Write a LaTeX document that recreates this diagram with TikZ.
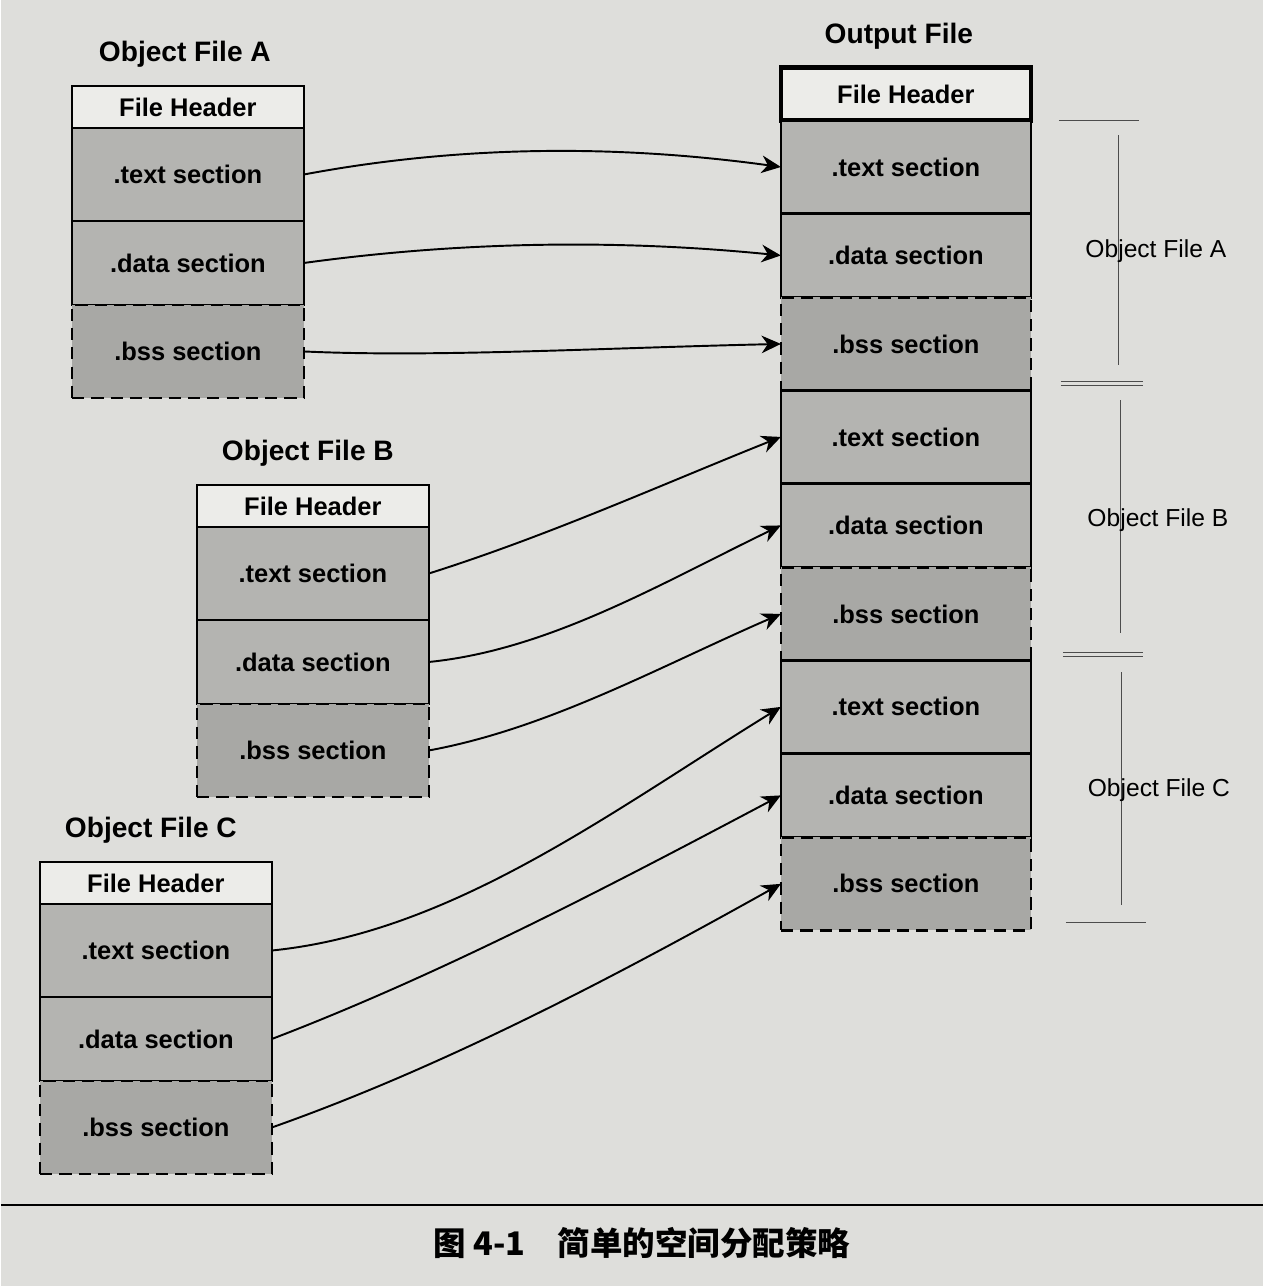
\documentclass[tikz,border=0pt]{standalone}
\usepackage{fontspec}
\setmainfont{Liberation Sans}
\newfontfamily\cjk{Noto Sans CJK SC}
\usetikzlibrary{positioning,arrows.meta}
\definecolor{paper}{RGB}{222,222,219}
\definecolor{secgray}{RGB}{180,180,177}
\definecolor{bssgray}{RGB}{168,168,165}
\definecolor{hdrgray}{RGB}{236,236,233}
\begin{document}
\begin{tikzpicture}[x=0.02cm,y=-0.02cm,
    hdr/.style={draw,line width=1.4pt,fill=hdrgray,minimum width=4.64cm,minimum height=0.84cm,
      inner sep=0pt,outer sep=0pt,font=\fontsize{14.5}{16}\selectfont\bfseries},
    sec/.style={hdr,fill=secgray,minimum height=1.86cm},
    datsec/.style={sec,minimum height=1.68cm},
    bsssec/.style={sec,fill=bssgray,dash pattern=on 7pt off 4pt},
    title/.style={font=\fontsize{16}{18}\selectfont\bfseries},
    side/.style={font=\fontsize{14}{16}\selectfont},
    link/.style={line width=1.1pt,-{Stealth[length=11pt,width=10pt,inset=3.5pt]}},
    thin/.style={line width=0.5pt,black!70}
]
    \fill[paper] (0,0) rectangle (1262,1286);

    % object file A
    \node[title] (titA) at (184,54) {Object File A};
    \node[hdr] (aHdr) at (187,107) {File Header};
    \node[sec,below=0pt of aHdr] (aText) {.text section};
    \node[datsec,below=0pt of aText] (aData) {.data section};
    \node[bsssec,below=0pt of aData] (aBss) {.bss section};

    % object file B
    \node[title] (titB) at (307,453) {Object File B};
    \node[hdr] (bHdr) at (312,506) {File Header};
    \node[sec,below=0pt of bHdr] (bText) {.text section};
    \node[datsec,below=0pt of bText] (bData) {.data section};
    \node[bsssec,below=0pt of bData] (bBss) {.bss section};

    % object file C
    \node[title] (titC) at (150,830) {Object File C};
    \node[hdr] (cHdr) at (155,883) {File Header};
    \node[sec,below=0pt of cHdr] (cText) {.text section};
    \node[datsec,below=0pt of cText] (cData) {.data section};
    \node[bsssec,below=0pt of cData] (cBss) {.bss section};

    % output file
    \node[title] (titO) at (898,36) {Output File};
    \node[hdr,line width=2.4pt,minimum width=5cm,minimum height=1.06cm] (oHdr) at (905,94) {File Header};
    \node[sec,minimum width=5cm,below=0pt of oHdr] (oaText) {.text section};
    \node[datsec,minimum width=5cm,below=0pt of oaText] (oaData) {.data section};
    \node[bsssec,minimum width=5cm,below=0pt of oaData] (oaBss) {.bss section};
    \node[sec,minimum width=5cm,below=0pt of oaBss] (obText) {.text section};
    \node[datsec,minimum width=5cm,below=0pt of obText] (obData) {.data section};
    \node[bsssec,minimum width=5cm,below=0pt of obData] (obBss) {.bss section};
    \node[sec,minimum width=5cm,below=0pt of obBss] (ocText) {.text section};
    \node[datsec,minimum width=5cm,below=0pt of ocText] (ocData) {.data section};
    \node[bsssec,minimum width=5cm,below=0pt of ocData] (ocBss) {.bss section};

    % arrows
    \draw[link] (aText.east) .. controls +(160,-30) and +(-160,-22) .. (oaText.west);
    \draw[link] (aData.east) .. controls +(160,-22) and +(-160,-16) .. (oaData.west);
    \draw[link] (aBss.east) .. controls +(130,6) and +(-180,4) .. (oaBss.west);
    \draw[link] (bText.east) .. controls +(120,-38) and +(-120,48) .. (obText.west);
    \draw[link] (bData.east) .. controls +(120,-12) and +(-120,58) .. (obData.west);
    \draw[link] (bBss.east) .. controls +(120,-22) and +(-120,52) .. (obBss.west);
    \draw[link] (cText.east) .. controls +(180,-18) and +(-170,105) .. (ocText.west);
    \draw[link] (cData.east) .. controls +(170,-65) and +(-170,90) .. (ocData.west);
    \draw[link] (cBss.east) .. controls +(170,-60) and +(-170,95) .. (ocBss.west);

    % brackets on the right
    \draw[thin] (1058,120) -- (1138,120);
    \draw[thin] (1118,135) -- (1118,365);
    \draw[thin] (1060,381) -- (1142,381) (1060,385) -- (1142,385);
    \draw[thin] (1120,400) -- (1120,633);
    \draw[thin] (1062,652) -- (1142,652) (1062,656) -- (1142,656);
    \draw[thin] (1121,672) -- (1121,905);
    \draw[thin] (1065,922) -- (1145,922);
    \node[side] (sideA) at (1155,251) {Object File A};
    \node[side] (sideB) at (1157,520) {Object File B};
    \node[side] (sideC) at (1158,790) {Object File C};

    % caption
    \draw[line width=1pt] (0,1205) -- (1262,1205);
    \node[font=\fontsize{18.5}{22}\selectfont\cjk\bfseries] (cap) at (641,1243) {图 4-1\hspace{1em}简单的空间分配策略};
\end{tikzpicture}
\end{document}
